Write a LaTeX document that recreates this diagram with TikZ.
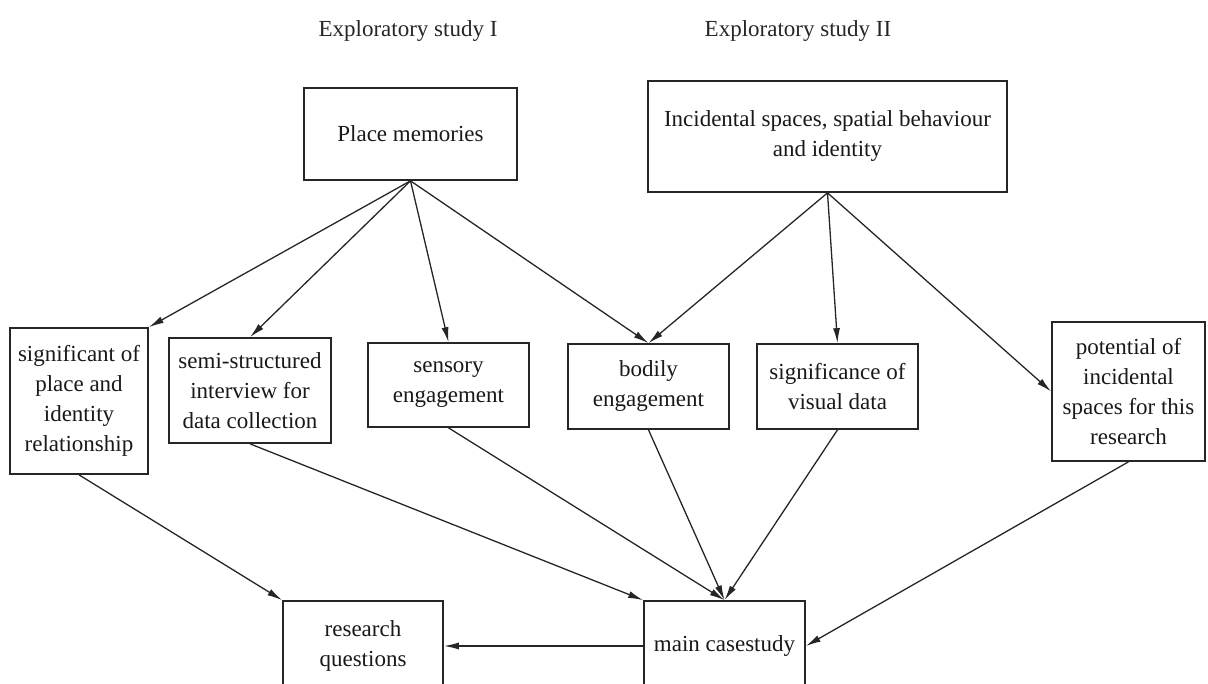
\documentclass[tikz,border=0pt]{standalone}
\usepackage{fontspec}
\setmainfont{Liberation Serif}
\usetikzlibrary{arrows.meta}
\begin{document}
\begin{tikzpicture}[x=1pt,y=-1pt,
  box/.style={draw=black!85, line width=1.7pt, fill=white, align=center,
              inner sep=0pt, text=black!90, font=\fontsize{23}{30}\selectfont},
  heading/.style={font=\fontsize{23}{30}\selectfont, text=black!85},
  link/.style={draw=black!85, line width=1.3pt, -{Latex[length=15pt,width=7pt]}}]
\useasboundingbox (0,0) rectangle (1208,684);
\clip (0,0) rectangle (1208,684);

% study headings
\node[heading] (t1) at (408,31) {Exploratory study I};
\node[heading] (t2) at (798,31) {Exploratory study II};

% top level
\node[box, minimum width=213pt, minimum height=92pt] (pm) at (410.5,134) {Place memories};
\node[box, minimum width=359pt, minimum height=111pt] (inc) at (827.5,136.5)
  {Incidental spaces, spatial behaviour\\and identity};

% middle row
\node[box, minimum width=138pt, minimum height=146pt] (sig) at (79,401)
  {significant of\\place and\\identity\\relationship};
\node[box, minimum width=162pt, minimum height=105pt] (semi) at (250,390.5)
  {semi-structured\\interview for\\data collection};
\node[box, minimum width=161pt, minimum height=84pt] (sens) at (448.5,385)
  {sensory\\engagement};
\node[box, minimum width=161pt, minimum height=85pt] (bod) at (648.5,386.5)
  {bodily\\engagement};
\node[box, minimum width=161pt, minimum height=85pt] (vis) at (837.5,386.5)
  {significance of\\visual data};
\node[box, minimum width=153pt, minimum height=139pt] (pot) at (1128.5,391.5)
  {potential of\\incidental\\spaces for this\\research};

% bottom row
\node[box, minimum width=160pt, minimum height=90pt] (rq) at (363,646)
  {research\\questions};
\node[box, minimum width=161pt, minimum height=90pt] (mc) at (724.5,646)
  {main casestudy};

% connectors
\draw[link] (pm.south) -- (sig.north east);
\draw[link] (pm.south) -- (semi.north);
\draw[link] (pm.south) -- (sens.north);
\draw[link] (pm.south) -- (bod.north);
\draw[link] (inc.south) -- (bod.north);
\draw[link] (inc.south) -- (vis.north);
\draw[link] (inc.south) -- (pot.west);
\draw[link] (sig.south) -- (rq.north west);
\draw[link] (semi.south) -- (mc.north west);
\draw[link] (sens.south) -- (mc.north);
\draw[link] (bod.south) -- (mc.north);
\draw[link] (vis.south) -- (mc.north);
\draw[link] (pot.south) -- (mc.east);
\draw[link] (mc.west) -- (rq.east);
\end{tikzpicture}
\end{document}
